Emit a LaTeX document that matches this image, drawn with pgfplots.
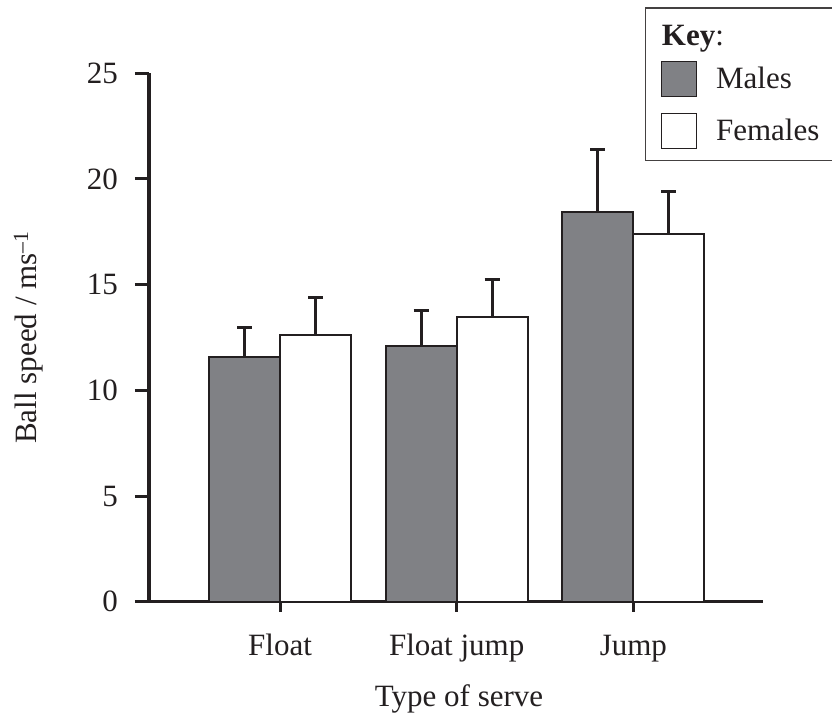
\documentclass[border=0pt]{standalone}
\usepackage{pgfplots}
\pgfplotsset{compat=1.18}
\usepackage{fontspec}
\setmainfont{Liberation Serif}
\definecolor{bargray}{RGB}{128,129,133}
\definecolor{ink}{RGB}{35,31,32}
\newcommand{\bigfont}{\fontsize{31bp}{37bp}\selectfont}
\begin{document}
\begin{tikzpicture}[x=1bp,y=1bp]
\begin{axis}[
  at={(149bp,115.3bp)}, anchor=south west,
  scale only axis, width=614bp, height=528.4bp,
  xmin=-0.742, xmax=2.734, ymin=0, ymax=25,
  axis lines*=left,
  axis line style={line width=3bp, color=ink},
  xtick={0,1,2}, xticklabels={Float, Float jump, Jump},
  ytick={0,5,10,15,20,25},
  tick align=outside,
  major tick length=14bp,
  tick style={line width=3bp, color=ink},
  xtick style={/pgfplots/major tick length=10bp},
  /pgf/number format/assume math mode=true,
  ticklabel style={font=\bigfont, text=ink, inner sep=0pt},
  xticklabel style={anchor=base, yshift=-39.3bp},
  yticklabel style={anchor=east, xshift=-17bp},
  label style={font=\bigfont, text=ink, inner sep=0pt},
  xlabel={Type of serve},
  ylabel={Ball speed / ms\textsuperscript{–1}},
  xlabel style={at={([yshift=-105bp]axis description cs:0.505,0)}, anchor=base},
  ylabel style={at={([xshift=-112bp]axis description cs:0,0.5)}, anchor=base},
  legend style={at={(axis description cs:0.8073,1.1249)}, anchor=north west,
    draw=ink!85!white, line width=1.2bp, fill=white,
    inner xsep=15.3bp, inner ysep=11.2bp, row sep=15.5bp, column sep=19bp,
    font=\bigfont, text=ink, nodes={inner sep=0pt, anchor=west}},
  legend cell align=left,
  clip=false,
]
\addlegendimage{legend image code/.code={\path[draw=none,fill=none] (0bp,-8.5bp) rectangle (35bp,17.5bp);\node[overlay,anchor=base west,inner sep=0pt,text=ink,draw=none,fill=none] at (0bp,-9bp) {\textbf{Key}:};}}
\addlegendentry{}
\addlegendimage{legend image code/.code={\draw[fill=bargray,draw=ink,line width=1.5bp] (0bp,-17.5bp) rectangle (35bp,17.5bp);}}
\addlegendentry{Males}
\addlegendimage{legend image code/.code={\draw[fill=white,draw=ink,line width=1.5bp] (0bp,-17.5bp) rectangle (35bp,17.5bp);}}
\addlegendentry{Females}

% Males (bars centred 0.201 left of each category)
\addplot[ybar, forget plot, bar width=71bp, bar shift=0pt, fill=bargray, draw=ink, line width=2bp,
  error bars/.cd, y dir=plus, y explicit,
  error bar style={line width=3bp, color=ink},
  error mark options={rotate=90, mark size=7.5bp, line width=3bp, color=ink}]
  coordinates {(-0.201,11.6) +- (0,1.35) (0.799,12.1) +- (0,1.7) (1.799,18.45) +- (0,2.95)};
% Females (bars centred 0.201 right of each category)
\addplot[ybar, forget plot, bar width=71bp, bar shift=0pt, fill=white, draw=ink, line width=2bp,
  error bars/.cd, y dir=plus, y explicit,
  error bar style={line width=3bp, color=ink},
  error mark options={rotate=90, mark size=7.5bp, line width=3bp, color=ink}]
  coordinates {(0.201,12.6) +- (0,1.8) (1.201,13.45) +- (0,1.8) (2.201,17.4) +- (0,2.0)};
\end{axis}
\pgfresetboundingbox
\useasboundingbox (0bp,0bp) rectangle (832bp,717bp);
\end{tikzpicture}
\end{document}
